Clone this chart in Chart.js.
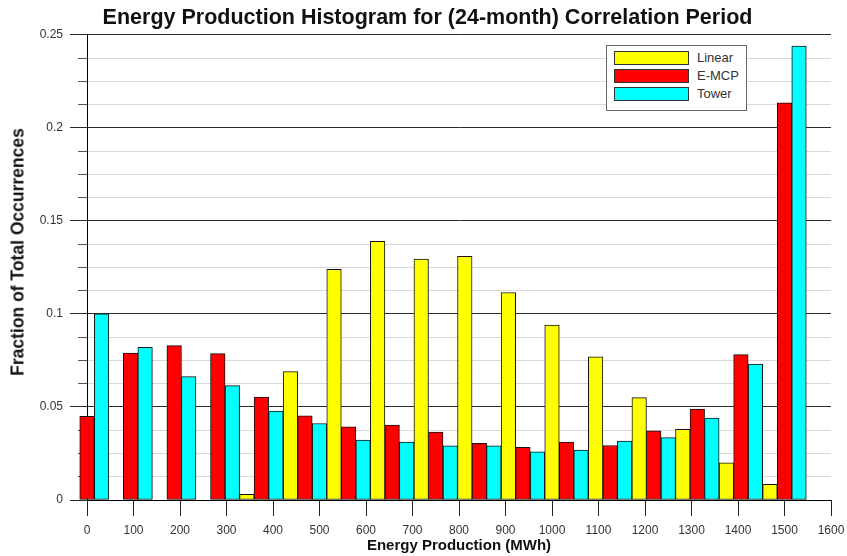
<!DOCTYPE html>
<html>
<head>
<meta charset="utf-8">
<script src="https://cdn.jsdelivr.net/npm/chart.js@4.4.1/dist/chart.umd.min.js"></script>
<style>
    body { margin: 0; background: #fff; }
    #wrap { position: relative; width: 847px; height: 556px; }
    #legend {
        position: absolute; left: 606px; top: 45px; width: 139px; height: 64px;
        border: 1px solid #666; background: #fff;
        font-family: 'Liberation Sans', Arial, sans-serif; font-size: 13px; color: #333;
    }
    .item { position: absolute; left: 7px; height: 14px; }
    .swatch { position: absolute; left: 0; top: 0; width: 73px; height: 12px; border: 1px solid #333; }
    .label { position: absolute; left: 83px; top: -1px; line-height: 15px; white-space: nowrap; }
    #ytitle {
        position: absolute; left: 18px; top: 252px;
        transform: translate(-50%, -50%) rotate(-90deg);
        font: bold 17.5px 'Liberation Sans', Arial, sans-serif; color: #111;
        white-space: nowrap;
    }
</style>
</head>
<body>
<div id="wrap">
    <canvas id="chart" width="847" height="556"></canvas>
    <div id="legend"></div>
    <div id="ytitle">Fraction of Total Occurrences</div>
</div>
<script>
// ビンの中心値 (MWh) — 0〜1500 を16区間に分割
const binCenters = [0, 93.75, 187.5, 281.25, 375, 468.75, 562.5, 656.25, 750,
    843.75, 937.5, 1031.25, 1125, 1218.75, 1312.5, 1406.25, 1500];

// 各系列の値（総発生数に対する割合）
const linearValues = [0, 0, 0, 0, 0.003, 0.069, 0.124, 0.139, 0.1295, 0.131,
    0.1115, 0.094, 0.077, 0.055, 0.038, 0.020, 0.0084];
const emcpValues = [0.045, 0.079, 0.083, 0.0787, 0.0553, 0.0453, 0.0393, 0.0402,
    0.0365, 0.0305, 0.0283, 0.0311, 0.0293, 0.0372, 0.0489, 0.0781, 0.2135];
const towerValues = [0.1, 0.082, 0.0663, 0.0615, 0.0478, 0.0411, 0.0322, 0.0311,
    0.0291, 0.0291, 0.0259, 0.0268, 0.0316, 0.0336, 0.044, 0.0731, 0.2439];

const seriesNames = ['Linear', 'E-MCP', 'Tower'];
const seriesColors = ['#ffff00', '#ff0000', '#00ffff'];

// 軸の範囲と目盛り
const xMin = 0, xMax = 1600, xStep = 100;
const yMin = 0, yMax = 0.25, yStep = 0.05, yMinorStep = 0.0125;

const FONT = "'Liberation Sans', Arial, sans-serif";

function toPoints(values) {
    return values.map((v, i) => ({ x: binCenters[i], y: v }));
}

const datasets = [linearValues, emcpValues, towerValues].map((values, i) => ({
    label: seriesNames[i],
    data: toPoints(values),
    backgroundColor: seriesColors[i],
    borderColor: '#111',
    borderWidth: 1,
    borderSkipped: false,
    categoryPercentage: 1.0,
    barPercentage: 1.0,
    clip: false,
    xAxisID: 'x',
    yAxisID: 'y'
}));

const chart = new Chart(document.getElementById('chart').getContext('2d'), {
    type: 'bar',
    data: { datasets: datasets },
    options: {
        responsive: false,
        animation: false,
        devicePixelRatio: 1,
        layout: { padding: { left: 8, right: 0, top: 0, bottom: 0 } },
        plugins: {
            legend: { display: false },
            tooltip: { enabled: false },
            title: {
                display: true,
                text: 'Energy Production Histogram for (24-month) Correlation Period',
                font: { family: FONT, size: 21.5, weight: 'bold' },
                color: '#111',
                padding: { top: 5, bottom: 4 }
            }
        },
        scales: {
            x: {
                type: 'linear',
                position: 'bottom',
                offset: false,
                min: xMin,
                max: xMax,
                // 下余白と右余白を固定
                afterFit: s => { s.height = 56; s.paddingRight = 16; },
                ticks: {
                    stepSize: xStep,
                    autoSkip: false,
                    maxRotation: 0,
                    padding: 7,
                    color: '#333',
                    font: { family: FONT, size: 12 },
                    callback: v => String(v)
                },
                grid: {
                    offset: false,
                    drawOnChartArea: false,
                    tickLength: 16,
                    tickColor: '#222'
                },
                border: { display: true, color: '#000', width: 1 },
                title: {
                    display: true,
                    text: 'Energy Production (MWh)',
                    color: '#111',
                    font: { family: FONT, size: 15, weight: 'bold' },
                    padding: { top: 0, bottom: 1 }
                }
            },
            y: {
                type: 'linear',
                position: 'left',
                min: yMin,
                max: yMax,
                afterFit: s => { s.width = 79; },
                ticks: {
                    stepSize: yStep,
                    padding: 7,
                    color: '#333',
                    font: { family: FONT, size: 12 },
                    callback: v => String(Math.round(v * 100) / 100)
                },
                grid: {
                    color: '#2b2b2b',
                    tickColor: '#2b2b2b',
                    tickLength: 17,
                    lineWidth: 1
                },
                border: { display: true, color: '#000', width: 1 },
                // 軸タイトルはHTMLで配置（#ytitle）
                title: { display: false }
            },
            // 補助目盛り（薄いグリッド線と短い目盛り）
            yMinor: {
                type: 'linear',
                axis: 'y',
                position: { x: 0 },
                min: yMin,
                max: yMax,
                ticks: { stepSize: yMinorStep, display: false },
                grid: {
                    color: ctx => (ctx.index % 4 === 0 ? 'rgba(0,0,0,0)' : '#d9d9d9'),
                    tickColor: ctx => (ctx.index % 4 === 0 ? 'rgba(0,0,0,0)' : '#555'),
                    tickLength: 9,
                    lineWidth: 1
                },
                border: { display: false }
            }
        }
    }
});

// 凡例をデータセットから作成
const legend = document.getElementById('legend');
chart.data.datasets.forEach((ds, i) => {
    const item = document.createElement('div');
    item.className = 'item';
    item.style.top = (5 + i * 18) + 'px';
    item.innerHTML = `<div class="swatch" style="background:${ds.backgroundColor}"></div>
        <div class="label">${ds.label}</div>`;
    legend.appendChild(item);
});
</script>
</body>
</html>
